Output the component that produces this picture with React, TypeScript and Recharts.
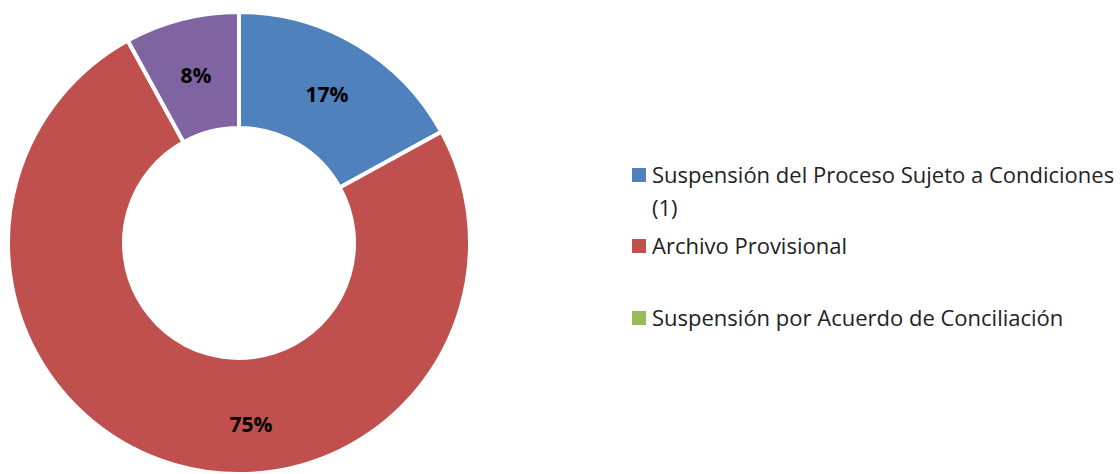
import { PieChart, Pie, Cell } from "recharts";

const categories = [
  "Suspensión del Proceso Sujeto a Condiciones (1)",
  "Archivo Provisional",
  "Suspensión por Acuerdo de Conciliación",
  "Otros",
];
const values = [17, 75, 0, 8];
const COLORS = ["#4F81BD", "#C0504D", "#9BBB59", "#8064A2"];
// only the first three appear in the legend
const legendItems = [0, 1, 2];
const legendTops = [158, 229, 301];

const data = categories.map((name, i) => ({ name, value: values[i] }));
const total = values.reduce((a, b) => a + b, 0);

const RAD = Math.PI / 180;

const renderLabel = (props: any) => {
  const { cx, cy, midAngle, innerRadius, outerRadius, value, index } = props;
  if (!value) return null;
  // the big slice label sits closer to the bottom, like the original
  const angle = index === 1 ? midAngle + 20 : midAngle;
  const r = (innerRadius + outerRadius) / 2 + (index === 1 ? 8 : 0);
  const x = cx + r * Math.cos(-angle * RAD);
  const y = cy + r * Math.sin(-angle * RAD);
  return (
    <text
      x={x}
      y={y}
      textAnchor="middle"
      dominantBaseline="central"
      fill="#000"
      fontFamily="Open Sans"
      fontWeight="bold"
      fontSize={21}
    >
      {Math.round((value / total) * 100)}%
    </text>
  );
};

export default function App() {
  return (
    <div
      style={{
        position: "absolute",
        left: 0,
        top: 0,
        width: 1120,
        height: 474,
        background: "#fff",
        overflow: "hidden",
      }}
    >
      <PieChart width={480} height={474} margin={{ top: 0, right: 0, bottom: 0, left: 0 }}>
        <Pie
          data={data}
          dataKey="value"
          nameKey="name"
          cx={239}
          cy={243}
          innerRadius={115}
          outerRadius={231}
          startAngle={90}
          endAngle={-270}
          stroke="#fff"
          strokeWidth={4}
          label={renderLabel}
          labelLine={false}
          isAnimationActive={false}
        >
          {data.map((entry, index) => (
            <Cell key={`cell-${index}`} fill={COLORS[index]} />
          ))}
        </Pie>
      </PieChart>

      {legendItems.map((i, k) => (
        <div
          key={i}
          style={{
            position: "absolute",
            left: 632,
            top: legendTops[k],
            display: "flex",
            alignItems: "flex-start",
            fontFamily: "Open Sans",
            fontSize: 22,
            lineHeight: "33px",
            color: "#222",
          }}
        >
          <div
            style={{
              width: 14,
              height: 14,
              background: COLORS[i],
              marginTop: 10,
              marginRight: 6,
              flexShrink: 0,
            }}
          />
          <div style={{ width: 470 }}>{categories[i]}</div>
        </div>
      ))}
    </div>
  );
}
